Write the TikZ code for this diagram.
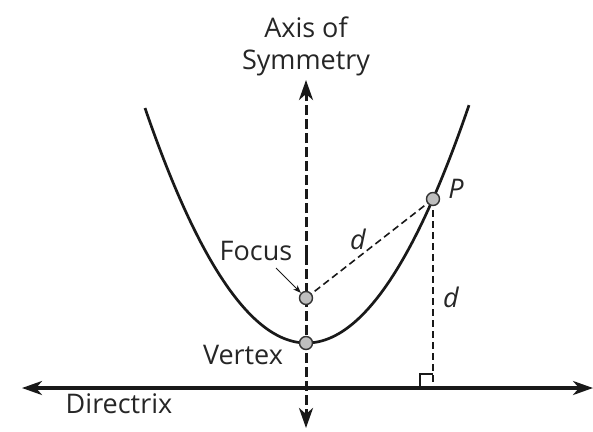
\documentclass[tikz,border=0pt]{standalone}
\usepackage{fontspec}
\setmainfont{Open Sans}
\usetikzlibrary{arrows.meta}
\begin{document}
\begin{tikzpicture}[x=1pt,y=-1pt,
  lbl/.style={inner sep=0pt, font=\fontsize{27}{32}\selectfont, text=black!85},
  ital/.style={lbl, font=\fontsize{27}{32}\selectfont\itshape},
  pt/.style={circle, draw=black!80, fill=black!25, line width=1.4pt, minimum size=13pt, inner sep=0pt},
  tip/.style={Stealth[length=20pt,width=14pt,inset=6pt]},
  axisline/.style={line width=3pt, dash pattern=on 10pt off 4pt, -{Stealth[length=20pt,width=14pt,inset=6pt]}},
  thindash/.style={line width=1.6pt, dash pattern=on 7pt off 4pt}
]
\useasboundingbox (0,0) rectangle (593,431);
% directrix
\coordinate (dl) at (22,388);
\coordinate (dr) at (593,388);
\draw[line width=3.2pt, black!90, {Stealth[length=20pt,width=14pt,inset=6pt]}-{Stealth[length=20pt,width=14pt,inset=6pt]}] (dl) -- (dr);
% parabola
\draw[line width=2.7pt, black!90] plot[domain=145:469, samples=120, smooth] (\x, {343 - ((\x-306.5)/10.536)^2});
% axis
\coordinate (atop) at (306,80);
\coordinate (abot) at (306,428);
\coordinate (amid) at (306,255);
\draw[axisline, black!90] (amid) -- (atop);
\draw[axisline, black!90] (amid) -- (abot);
% points
\coordinate (Pc) at (433,199);
\coordinate (foot) at (433,388);
\draw[thindash, black!90] (306,298) -- (Pc);
\draw[thindash, black!90] (Pc) -- (foot);
\draw[line width=2pt, black!90] (420,388) -- (420,374) -- (433,374);
\node[pt] (F) at (306,298) {};
\node[pt] (V) at (306,343) {};
\node[pt] (P) at (Pc) {};
% labels
\node[lbl, anchor=base] (ax1) at (306,37) {Axis of};
\node[lbl, anchor=base] (ax2) at (306,69) {Symmetry};
\node[lbl] (fl) at (256,251) {Focus};
\node[lbl] (vl) at (243,355) {Vertex};
\node[lbl] (dlb) at (119,404) {Directrix};
\node[ital] (pl) at (456,189) {P};
\node[ital] (d1) at (358,239) {d};
\node[ital] (d2) at (451,297) {d};
\coordinate (fa) at (276,268);
\draw[line width=1pt, black!90, -{Stealth[length=8pt,width=6pt]}] (fa) -- (F);
\end{tikzpicture}
\end{document}
